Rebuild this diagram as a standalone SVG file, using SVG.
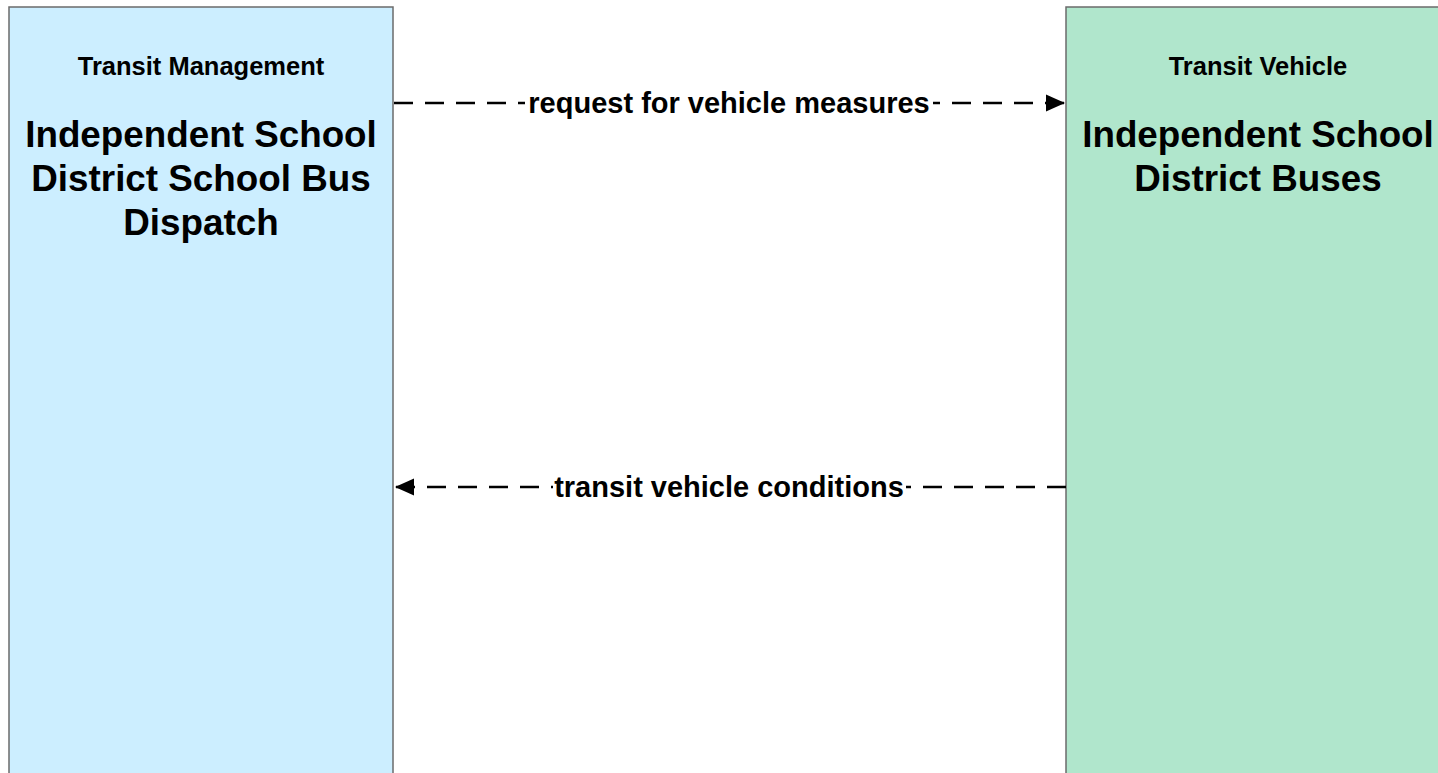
<svg xmlns="http://www.w3.org/2000/svg" width="1438" height="773" viewBox="0 0 1438 773">
<style>
.box{stroke:#6b6b6b;stroke-width:1.5}
.t{font-family:"Liberation Sans",Arial,sans-serif;font-weight:bold;fill:#000;text-anchor:middle}
.cls{font-size:25.5px}
.nm{font-size:36.8px}
.lbl{font-size:29px}
.flow{fill:none;stroke:#000;stroke-width:2.5;stroke-dasharray:19 12}
.bg{fill:#fff}
</style>
<defs>
<marker id="arr" markerUnits="userSpaceOnUse" markerWidth="20" markerHeight="18" viewBox="0 0 20 18" refX="19" refY="9" orient="auto">
<path d="M0,0.5 L19,9 L0,17.5 Z" fill="#000"/>
</marker>
</defs>
<rect width="1438" height="773" fill="#fff"/>
<g id="node-dispatch">
<rect class="box" x="9" y="7" width="384" height="780" fill="#cceeff"/>
<text class="t cls" x="201" y="75">Transit Management</text>
<text class="t nm" x="201" y="147">Independent School</text>
<text class="t nm" x="201" y="191">District School Bus</text>
<text class="t nm" x="201" y="235">Dispatch</text>
</g>
<g id="node-buses">
<rect class="box" x="1066" y="7" width="384" height="780" fill="#b0e6cc"/>
<text class="t cls" x="1258" y="75">Transit Vehicle</text>
<text class="t nm" x="1258" y="147">Independent School</text>
<text class="t nm" x="1258" y="191">District Buses</text>
</g>
<g id="connectors">
<path class="flow" d="M394,103 H1065" marker-end="url(#arr)"/>
<rect class="bg" x="525" y="88" width="408" height="30"/>
<text class="t lbl" x="729" y="113">request for vehicle measures</text>
<path class="flow" d="M1066,487 H395" marker-end="url(#arr)"/>
<rect class="bg" x="553" y="472" width="353" height="30"/>
<text class="t lbl" x="729" y="497">transit vehicle conditions</text>
</g>
</svg>
